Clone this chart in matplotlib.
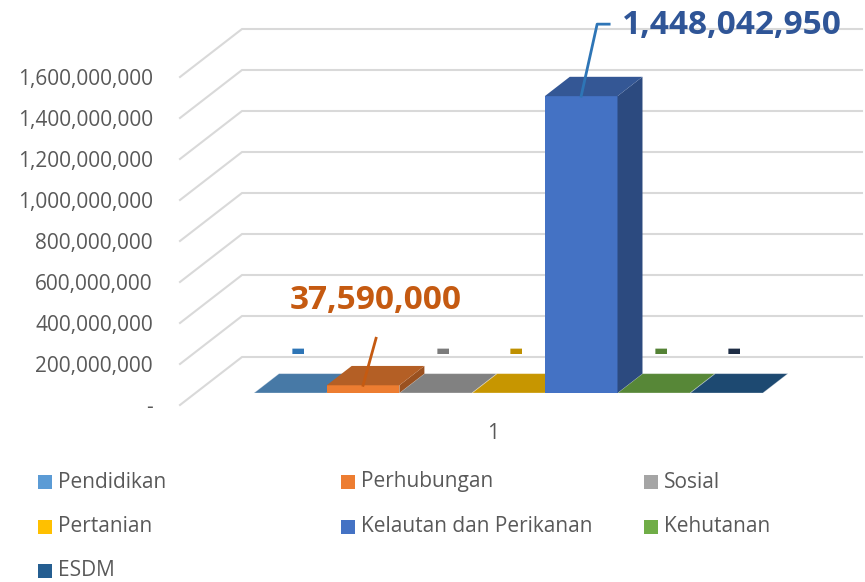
import matplotlib
matplotlib.use("Agg")
import matplotlib.pyplot as plt
from matplotlib.patches import Polygon, Rectangle
from matplotlib.lines import Line2D
from matplotlib.transforms import ScaledTranslation, IdentityTransform
import numpy as np

# ---------------- data ----------------
categories = ["1"]
series = ["Pendidikan", "Perhubungan", "Sosial", "Pertanian",
          "Kelautan dan Perikanan", "Kehutanan", "ESDM"]
values = [0, 37590000, 0, 0, 1448042950, 0, 0]
colors = ["#5B9BD5", "#ED7D31", "#A5A5A5", "#FFC000", "#4472C4", "#70AD47", "#255E91"]
label_colors = ["#2E75B6", "#C55A11", "#7B7B7B", "#BF9000", "#2F5597", "#548235", "#1E2D45"]
yticks = [0, 200e6, 400e6, 600e6, 800e6, 1000e6, 1200e6, 1400e6, 1600e6]
ytick_labels = ["-", "200,000,000", "400,000,000", "600,000,000", "800,000,000",
                "1,000,000,000", "1,200,000,000", "1,400,000,000", "1,600,000,000"]

# ---------------- layout ----------------
W, H = 865, 582
DPI = 100
FONT = ["Open Sans", "DejaVu Sans"]
TXT = "#595959"
plt.rcParams["font.family"] = FONT

fig = plt.figure(figsize=(W / DPI, H / DPI), dpi=DPI)
ax = fig.add_axes([180 / W, (H - 405) / H, 620 / W, 328 / H])
ax.set_facecolor("none")
for s in ax.spines.values():
    s.set_visible(False)

n = len(series)
unit = 72.7
left_gap = 58.5 / unit
xmin = -0.5 - left_gap
xmax = xmin + 620 / unit
ax.set_xlim(xmin, xmax)
ax.set_ylim(0, yticks[-1])

DEPTH = np.array([62.0, 48.0])   # pixel vector for full depth (front -> back wall)
D0, D1 = 0.25, 0.653             # bar front / back depth


def P(x, y, d=0.0):
    return ax.transData.transform((x, y)) + d * DEPTH


def shift(d):
    v = d * DEPTH / DPI
    return ax.transData + ScaledTranslation(v[0], v[1], fig.dpi_scale_trans)


def darker(c, f):
    rgb = np.array(matplotlib.colors.to_rgb(c))
    return tuple(rgb * f)


# back wall gridlines + diagonals to the front
for v in yticks:
    a = P(xmin, v, 0)
    b = P(xmin, v, 1)
    c = P(xmax, v, 1)
    ax.add_line(Line2D([a[0], b[0], c[0]], [a[1], b[1], c[1]], transform=IdentityTransform(),
                       color="#D9D9D9", lw=1.5, clip_on=False, zorder=1))

# axes ticks
ax.set_yticks(yticks, ytick_labels)
ax.set_xticks([(n - 1) / 2], categories)
ax.tick_params(axis="y", length=0, pad=19.5, labelsize=15, labelcolor=TXT)
ax.tick_params(axis="x", length=0, pad=13, labelsize=15, labelcolor=TXT)

# bars (pseudo 3D)
order = [i for i in range(n) if values[i] == 0] + [i for i in range(n) if values[i] != 0]
for k, i in enumerate(order):
    v = values[i]
    x0, x1 = i - 0.5, i + 0.5
    z = 3 + k * 0.01
    top = [P(x0, v, D0), P(x1, v, D0), P(x1, v, D1), P(x0, v, D1)]
    if v > 0:
        ax.bar([i], [v], width=1.0, color=colors[i], transform=shift(D0),
               clip_on=False, zorder=z, linewidth=0)
        side = [P(x1, 0, D0), P(x1, 0, D1), P(x1, v, D1), P(x1, v, D0)]
        ax.add_patch(Polygon(side, closed=True, transform=IdentityTransform(),
                             facecolor=darker(colors[i], 0.65), lw=0, clip_on=False, zorder=z))
        ax.add_patch(Polygon(top, closed=True, transform=IdentityTransform(),
                             facecolor=darker(colors[i], 0.76), lw=0, clip_on=False, zorder=z))
    else:
        ax.add_patch(Polygon(top, closed=True, transform=IdentityTransform(),
                             facecolor=darker(colors[i], 0.78), edgecolor=(1, 1, 1, 0.35),
                             lw=0.6, clip_on=False, zorder=z))

# data labels for zero values
for i, v in enumerate(values):
    if v == 0:
        ax.annotate("-", xy=(i, v), xycoords=shift(D0), xytext=(7 * 0.72, 42 * 0.72),
                    textcoords="offset points", ha="center", va="center",
                    fontsize=32, fontweight="bold", color=label_colors[i], zorder=6)

# leader-line labels
p = P(1, values[1], D0)
ax.add_line(Line2D([p[0], p[0] + 13], [p[1], p[1] + 47], transform=IdentityTransform(),
                   color=label_colors[1], lw=2, clip_on=False, zorder=6))
ax.text(p[0] + 13, p[1] + 85, f"{values[1]:,}", transform=IdentityTransform(),
        ha="center", va="center", fontsize=24, fontweight="bold", color=label_colors[1], zorder=6)

p = P(4, values[4], D0)
ax.add_line(Line2D([p[0], p[0] + 16, p[0] + 28], [p[1], p[1] + 72, p[1] + 72],
                   transform=IdentityTransform(), color="#2E75B6", lw=2, clip_on=False, zorder=6))
ax.text(p[0] + 41, p[1] + 71, f"{values[4]:,}", transform=IdentityTransform(),
        ha="left", va="center", fontsize=24, fontweight="bold", color=label_colors[4], zorder=6)

# legend (row-major, 3 columns)
col_x = [38, 341, 644]
for i, name in enumerate(series):
    r, c = divmod(i, 3)
    yc = 482 + 44.5 * r
    fig.patches.append(Rectangle((col_x[c] / W, (H - yc - 7) / H), 14 / W, 14 / H,
                                 transform=fig.transFigure, facecolor=colors[i], lw=0))
    fig.text((col_x[c] + 20) / W, (H - yc) / H, name, ha="left", va="center",
             fontsize=15, color=TXT)

fig.savefig("out.png", dpi=DPI)
